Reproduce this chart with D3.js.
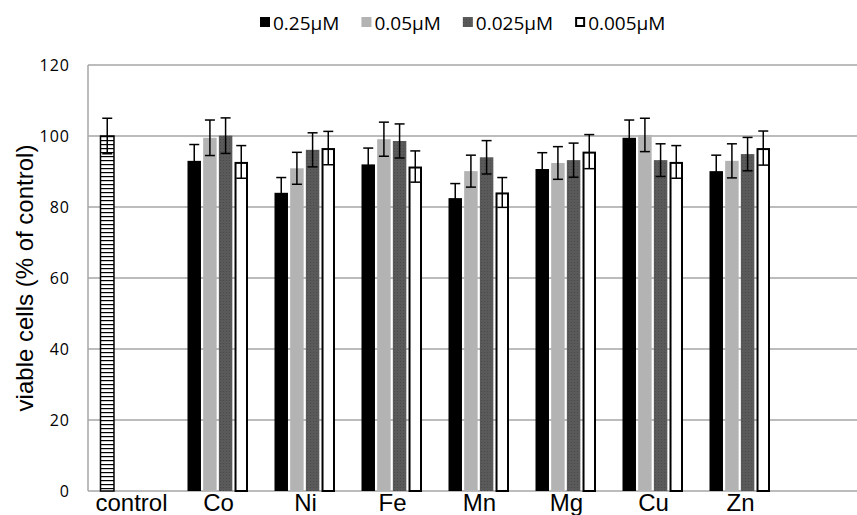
<!DOCTYPE html>
<html lang="en">
<head>
  <meta charset="UTF-8">
  <title>Viable cells</title>
  <script src="https://d3js.org/d3.v7.min.js"></script>
  <style>
    html, body {
      margin: 0;
      background: #fff;
    }
    svg {
      display: block;
    }
    .grid line {
      stroke: #a6a6a6;
      stroke-width: 1.5px;
    }
    .tick-label {
      font-family: "Open Sans", sans-serif;
      font-size: 16px;
      letter-spacing: 1px;
      fill: #000;
    }
    .cat-label, .y-title {
      font-family: "Liberation Sans", Arial, sans-serif;
      font-size: 24px;
      fill: #000;
    }
    .legend text {
      font-family: "Open Sans", sans-serif;
      font-size: 19px;
      fill: #000;
    }
    .err line {
      stroke: #000;
      stroke-width: 1.5px;
    }
  </style>
</head>
<body>
  <svg width="857" height="515"></svg>
  <script>
    // values
    const categories = ["control", "Co", "Ni", "Fe", "Mn", "Mg", "Cu", "Zn"];
    const metals = ["Co", "Ni", "Fe", "Mn", "Mg", "Cu", "Zn"];
    const series = ["0.25\u03bcM", "0.05\u03bcM", "0.025\u03bcM", "0.005\u03bcM"];
    const controlValue = 100;
    const controlError = 5;
    const yTicks = [0, 20, 40, 60, 80, 100, 120];

    const mean025 = [93.0, 84.0, 92.0, 82.5, 90.7, 99.5, 90.1];
    const mean005 = [99.5, 90.9, 99.1, 90.1, 92.4, 100.3, 93.0];
    const mean0025 = [100.1, 96.1, 98.6, 94.0, 93.2, 93.2, 94.9];
    const mean0005 = [92.7, 96.6, 91.4, 84.1, 95.6, 92.7, 96.6];

    const err025 = [4.6, 4.3, 4.6, 4.1, 4.6, 5.0, 4.5];
    const err005 = [5.0, 4.5, 4.8, 4.5, 4.6, 4.7, 4.8];
    const err0025 = [5.0, 4.8, 4.8, 4.7, 4.8, 4.6, 4.7];
    const err0005 = [4.6, 4.7, 4.4, 4.2, 4.8, 4.6, 4.8];

    const means = [mean025, mean005, mean0025, mean0005];
    const errs = [err025, err005, err0025, err0005];

    const svg = d3.select("svg");

    const defs = svg.append("defs");
    const hatch = defs.append("pattern")
      .attr("id", "hatch")
      .attr("patternUnits", "userSpaceOnUse")
      .attr("width", 4).attr("height", 4);
    hatch.append("rect").attr("width", 4).attr("height", 4).attr("fill", "#fff");
    hatch.append("rect").attr("width", 4).attr("height", 1.2).attr("fill", "#000");

    const stipple = defs.append("pattern")
      .attr("id", "stipple")
      .attr("patternUnits", "userSpaceOnUse")
      .attr("width", 3).attr("height", 3);
    stipple.append("rect").attr("width", 3).attr("height", 3).attr("fill", "#5a5a5a");
    stipple.append("rect").attr("x", 1).attr("y", 1).attr("width", 1).attr("height", 1).attr("fill", "#4a4a4a");

    const fills = ["#000", "#b3b3b3", "url(#stipple)", "#fff"];

    const plotLeft = 88, plotRight = 857, plotTop = 65, plotBottom = 491;

    const x0 = d3.scaleBand().domain(categories).range([plotLeft, 784]);
    const x1 = d3.scaleBand().domain(series).range([12.5, 73]).paddingInner(0.14);
    const y = d3.scaleLinear().domain([0, 120]).range([plotBottom, plotTop]);

    // gridlines
    const grid = svg.append("g").attr("class", "grid");
    grid.selectAll("line.h")
      .data(yTicks)
      .enter().append("line")
      .attr("class", "h")
      .attr("x1", plotLeft).attr("x2", plotRight)
      .attr("y1", d => y(d)).attr("y2", d => y(d));
    grid.append("line")
      .attr("x1", plotLeft).attr("x2", plotLeft)
      .attr("y1", y(120)).attr("y2", y(0));

    // y tick labels
    svg.append("g").selectAll("text")
      .data(yTicks)
      .enter().append("text")
      .attr("class", "tick-label")
      .attr("x", 70)
      .attr("y", d => y(d))
      .attr("dy", "0.35em")
      .attr("text-anchor", "end")
      .text(d => d);

    // y title
    svg.append("text")
      .attr("class", "y-title")
      .attr("transform", `translate(33,${(y(120) + y(0)) / 2}) rotate(-90)`)
      .attr("text-anchor", "middle")
      .text("viable cells (% of control)");

    // control bar
    const cx = x0("control") + x1(series[0]);
    svg.append("rect")
      .attr("x", cx)
      .attr("y", y(controlValue))
      .attr("width", x1.bandwidth())
      .attr("height", y(0) - y(controlValue))
      .attr("fill", "url(#hatch)")
      .attr("stroke", "#000")
      .attr("stroke-width", 1.5);

    // metal bars
    const bars = [];
    metals.forEach((m, i) => {
      series.forEach((s, j) => {
        bars.push({ cat: m, s: s, j: j, v: means[j][i], e: errs[j][i] });
      });
    });

    svg.append("g").selectAll("rect")
      .data(bars)
      .enter().append("rect")
      .attr("x", d => x0(d.cat) + x1(d.s) + (d.j === 3 ? 1 : 0))
      .attr("y", d => y(d.v) + (d.j === 3 ? 1 : 0))
      .attr("width", d => x1.bandwidth() - (d.j === 3 ? 2 : 0))
      .attr("height", d => y(0) - y(d.v) - (d.j === 3 ? 1 : 0))
      .attr("fill", d => fills[d.j])
      .attr("stroke", d => d.j === 3 ? "#000" : "none")
      .attr("stroke-width", 2);

    // error bars
    const errData = bars.map(d => ({ cx: x0(d.cat) + x1(d.s) + x1.bandwidth() / 2, v: d.v, e: d.e }));
    errData.push({ cx: cx + x1.bandwidth() / 2, v: controlValue, e: controlError });

    const eg = svg.append("g").attr("class", "err")
      .selectAll("g")
      .data(errData)
      .enter().append("g");
    eg.append("line")
      .attr("x1", d => d.cx).attr("x2", d => d.cx)
      .attr("y1", d => y(d.v - d.e)).attr("y2", d => y(d.v + d.e));
    eg.append("line")
      .attr("x1", d => d.cx - 5).attr("x2", d => d.cx + 5)
      .attr("y1", d => y(d.v + d.e)).attr("y2", d => y(d.v + d.e));
    eg.append("line")
      .attr("x1", d => d.cx - 5).attr("x2", d => d.cx + 5)
      .attr("y1", d => y(d.v - d.e)).attr("y2", d => y(d.v - d.e));

    // category labels
    svg.append("g").selectAll("text")
      .data(categories)
      .enter().append("text")
      .attr("class", "cat-label")
      .attr("x", d => x0(d) + x0.bandwidth() / 2)
      .attr("y", 511)
      .attr("text-anchor", "middle")
      .text(d => d);

    // legend
    const legend = svg.append("g").attr("class", "legend");
    let lx = 260;
    series.forEach((s, j) => {
      legend.append("rect")
        .attr("x", lx + (j === 3 ? 1 : 0))
        .attr("y", 17 + (j === 3 ? 1 : 0))
        .attr("width", j === 3 ? 8 : 10)
        .attr("height", j === 3 ? 8 : 10)
        .attr("fill", fills[j])
        .attr("stroke", j === 3 ? "#000" : "none")
        .attr("stroke-width", 2);
      const t = legend.append("text")
        .attr("x", lx + 13)
        .attr("y", 30)
        .text(s);
      lx += 13 + t.node().getComputedTextLength() + 22;
    });
  </script>
</body>
</html>
